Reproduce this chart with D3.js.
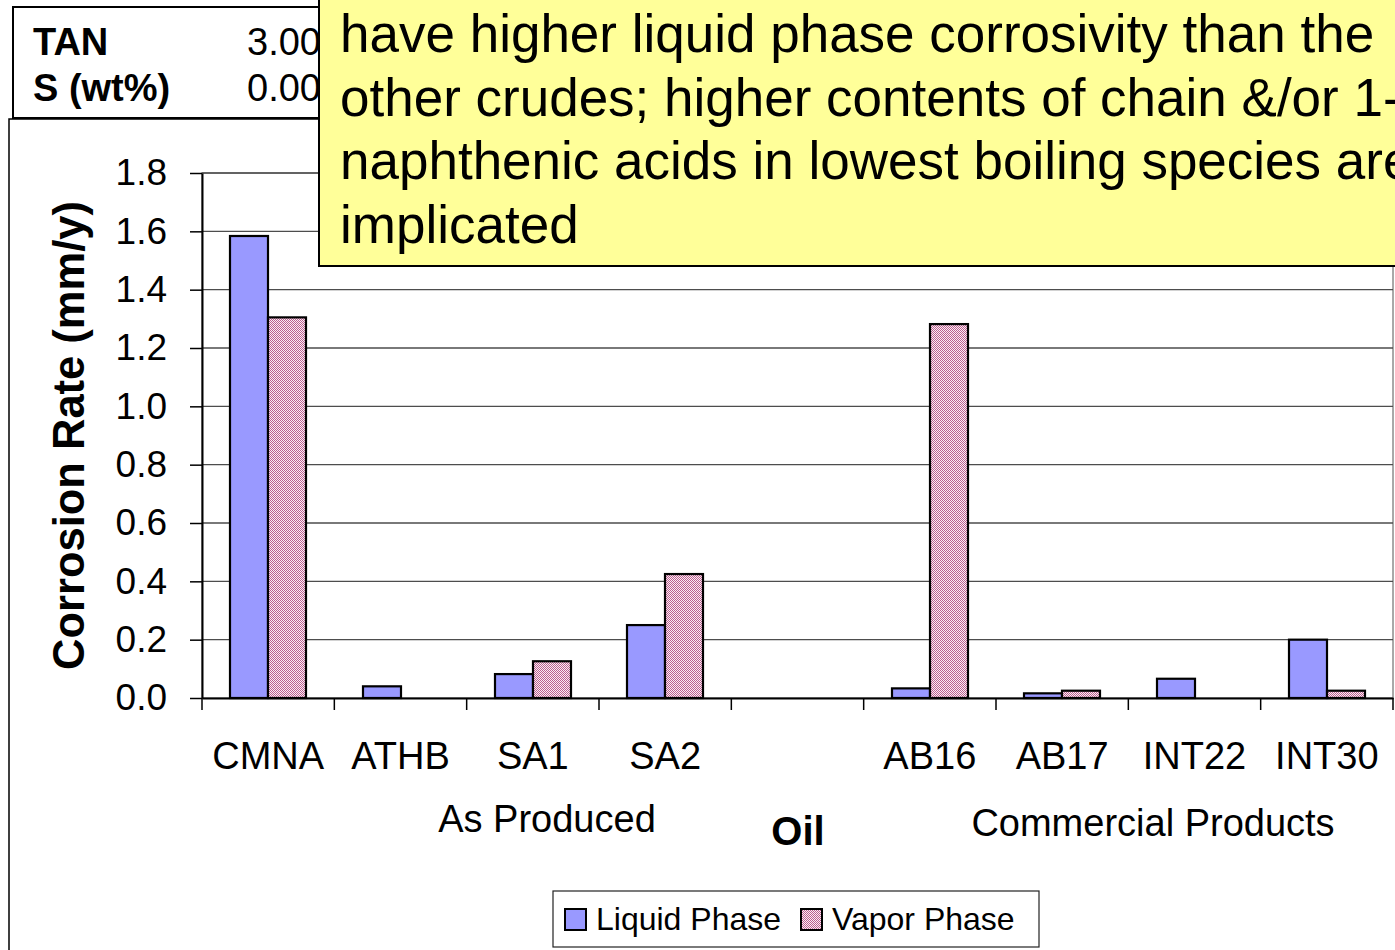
<!DOCTYPE html>
<html>
<head>
<meta charset="utf-8">
<script src="https://cdn.jsdelivr.net/npm/d3@7"></script>
<style>
  body{margin:0;background:#fff;}
  svg text{font-family:"Liberation Sans",Arial,sans-serif;fill:#000;}
</style>
</head>
<body>
<svg id="chart" width="1395" height="950"></svg>
<script>
// data
var categories = ["CMNA","ATHB","SA1","SA2","","AB16","AB17","INT22","INT30"];
var liquid = [1.584,0.04,0.082,0.25,null,0.033,0.016,0.066,0.20];
var vapor  = [1.305,0,0.126,0.425,null,1.282,0.025,0,0.025];
var series = ["Liquid Phase","Vapor Phase"];
var yTicks = [0,0.2,0.4,0.6,0.8,1.0,1.2,1.4,1.6,1.8];
var noteLines = [
  "have higher liquid phase corrosivity than the",
  "other crudes; higher contents of chain &/or 1-",
  "naphthenic acids in lowest boiling species are",
  "implicated"
];
var tableRows = [["TAN","3.00"],["S (wt%)","0.00"]];

var svg = d3.select('#chart');
var plotL = 202, plotR = 1393, plotT = 173, plotB = 698;

// checker pattern for the vapor bars
var defs = svg.append('defs');
var pat = defs.append('pattern')
    .attr('id','vaporFill')
    .attr('x',0).attr('y',0)
    .attr('width',4).attr('height',4)
    .attr('patternUnits','userSpaceOnUse');
pat.append('rect').attr('width',4).attr('height',4).attr('fill','#fbeef4')
    .attr('shape-rendering','crispEdges');
var cells = [];
for(var cy=0; cy<4; cy++){
  for(var cx=0; cx<4; cx++){
    if((cx+cy)%2===0) cells.push([cx,cy]);
  }
}
pat.selectAll('rect.c')
    .data(cells)
    .enter()
    .append('rect')
    .attr('class','c')
    .attr('x',function(d){return d[0];})
    .attr('y',function(d){return d[1];})
    .attr('width',1).attr('height',1)
    .attr('fill','#bb6090')
    .attr('shape-rendering','crispEdges');

var fills = {"Liquid Phase":"#9999ff","Vapor Phase":"url(#vaporFill)"};

// chart frame
svg.append('rect')
    .attr('x',9).attr('y',119)
    .attr('width',1500).attr('height',900)
    .attr('fill','#fff')
    .attr('stroke','#000')
    .attr('stroke-width',1.5);

//set scales
var scaleX = d3.scaleBand()
    .domain(categories)
    .range([plotL,plotR])
    .paddingInner(1.5/3.5)
    .paddingOuter(0.75/3.5);

var scaleS = d3.scaleBand()
    .domain(series)
    .range([0,scaleX.bandwidth()]);

var scaleY = d3.scaleLinear()
    .domain([0,1.8])
    .range([plotB,plotT]);

// plot area border
svg.append('rect')
    .attr('x',plotL).attr('y',plotT)
    .attr('width',plotR-plotL).attr('height',plotB-plotT)
    .attr('fill','none')
    .attr('stroke','#8c8c8c')
    .attr('stroke-width',1.5);

// gridlines
svg.append('g').attr('class','grid')
    .selectAll('line')
    .data(yTicks.filter(function(d){return d>0;}))
    .enter()
    .append('line')
    .attr('x1',plotL).attr('x2',plotR)
    .attr('y1',function(d){return scaleY(d);})
    .attr('y2',function(d){return scaleY(d);})
    .attr('stroke','#4d4d4d')
    .attr('stroke-width',1.3);

// bars
var rows = categories.map(function(c,i){
  return {cat:c, values:[{s:series[0],v:liquid[i]},{s:series[1],v:vapor[i]}]};
});

var groups = svg.append('g').attr('class','bars')
    .selectAll('g')
    .data(rows)
    .enter()
    .append('g');

groups.selectAll('rect')
    .data(function(d){
      return d.values
        .filter(function(e){return e.v>0;})
        .map(function(e){return {cat:d.cat, s:e.s, v:e.v};});
    })
    .enter()
    .append('rect')
    .attr('x',function(d){return Math.round(scaleX(d.cat) + scaleS(d.s));})
    .attr('width',Math.round(scaleS.bandwidth()))
    .attr('y',function(d){return scaleY(d.v);})
    .attr('height',function(d){return scaleY(0)-scaleY(d.v);})
    .attr('fill',function(d){return fills[d.s];})
    .attr('stroke','#000')
    .attr('stroke-width',2.2);

// y axis
var axisY = d3.axisLeft(scaleY)
    .tickValues(yTicks)
    .tickFormat(d3.format('.1f'))
    .tickSizeInner(12)
    .tickSizeOuter(0)
    .tickPadding(23);

var gy = svg.append('g').attr('class','axis axis-y')
    .attr('transform','translate(' + plotL + ',0)')
    .call(axisY);
gy.select('.domain').attr('stroke','#000').attr('stroke-width',2);
gy.selectAll('.tick line').attr('stroke','#000').attr('stroke-width',1.5);
gy.selectAll('text')
    .style('font-family','"Liberation Sans",Arial,sans-serif')
    .style('font-size','37px');

// x axis labels
var axisX = d3.axisBottom(scaleX)
    .tickSizeInner(0)
    .tickSizeOuter(0)
    .tickPadding(44);

var gx = svg.append('g').attr('class','axis axis-x')
    .attr('transform','translate(0,' + plotB + ')')
    .call(axisX);
gx.select('.domain').attr('stroke','#000').attr('stroke-width',2);
gx.selectAll('text')
    .style('font-family','"Liberation Sans",Arial,sans-serif')
    .style('font-size','38px');

// x ticks sit between categories
var step = scaleX.step();
var bounds = categories.map(function(c){return scaleX(c) - (step-scaleX.bandwidth())/2;});
bounds.push(plotR);
svg.append('g').attr('class','xticks')
    .selectAll('line')
    .data(bounds)
    .enter()
    .append('line')
    .attr('x1',function(d){return d;}).attr('x2',function(d){return d;})
    .attr('y1',plotB).attr('y2',plotB+12)
    .attr('stroke','#000')
    .attr('stroke-width',1.5);

// axis titles
svg.append('text')
    .attr('transform','translate(84,' + ((plotT+plotB)/2) + ') rotate(-90)')
    .attr('text-anchor','middle')
    .style('font-size','43.5px')
    .style('font-weight','bold')
    .text('Corrosion Rate (mm/y)');

svg.append('text')
    .attr('x',798).attr('y',845)
    .attr('text-anchor','middle')
    .style('font-size','40px')
    .style('font-weight','bold')
    .text('Oil');

svg.append('text')
    .attr('x',547).attr('y',832)
    .attr('text-anchor','middle')
    .style('font-size','38px')
    .text('As Produced');

svg.append('text')
    .attr('x',1153).attr('y',836)
    .attr('text-anchor','middle')
    .style('font-size','38px')
    .text('Commercial Products');

// legend
var legend = svg.append('g').attr('class','legend');
legend.append('rect')
    .attr('x',553).attr('y',891)
    .attr('width',486).attr('height',56)
    .attr('fill','#fff')
    .attr('stroke','#222')
    .attr('stroke-width',1.2);

var legX = [565,801];
series.forEach(function(s,i){
  legend.append('rect')
      .attr('x',legX[i]).attr('y',909)
      .attr('width',21).attr('height',21)
      .attr('fill',fills[s])
      .attr('stroke','#000')
      .attr('stroke-width',2);
  legend.append('text')
      .attr('x',legX[i]+31).attr('y',930)
      .style('font-size','32px')
      .text(s);
});

// TAN / S table
svg.append('rect')
    .attr('x',13).attr('y',7)
    .attr('width',400).attr('height',111)
    .attr('fill','#fff')
    .attr('stroke','#000')
    .attr('stroke-width',2);

tableRows.forEach(function(r,i){
  svg.append('text')
      .attr('x',33).attr('y',55 + i*46)
      .style('font-size','38px')
      .style('font-weight','bold')
      .text(r[0]);
  svg.append('text')
      .attr('x',247).attr('y',55 + i*46)
      .style('font-size','38px')
      .text(r[1]);
});

// yellow note box
svg.append('rect')
    .attr('x',319).attr('y',-20)
    .attr('width',1200).attr('height',286)
    .attr('fill','#ffff99')
    .attr('stroke','#000')
    .attr('stroke-width',2);

svg.append('g').attr('class','note')
    .selectAll('text')
    .data(noteLines)
    .enter()
    .append('text')
    .attr('x',340)
    .attr('y',function(d,i){return 52 + i*63.5;})
    .style('font-size','53px')
    .text(function(d){return d;});
</script>
</body>
</html>
